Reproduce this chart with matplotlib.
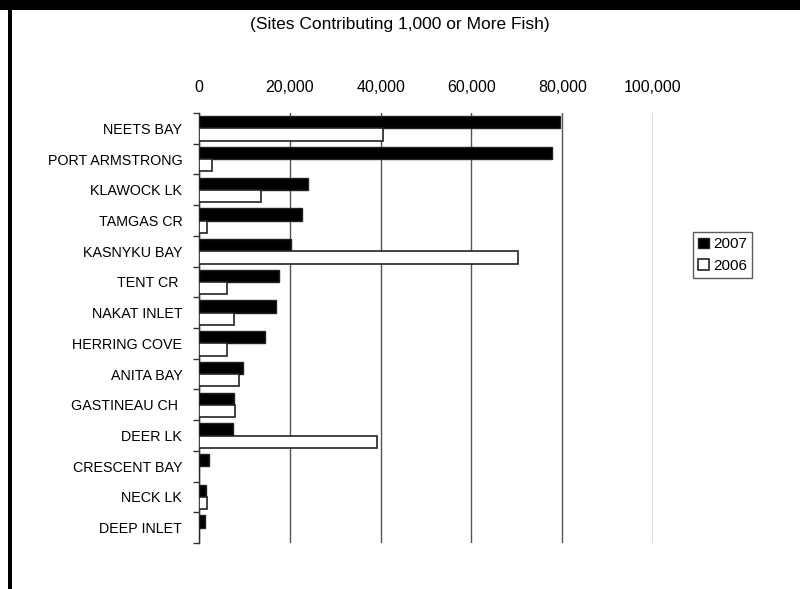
import matplotlib
matplotlib.use("Agg")
import matplotlib.pyplot as plt
from matplotlib.patches import Rectangle
import numpy as np

plt.rcParams['font.family'] = ['Liberation Sans', 'DejaVu Sans']

sites = ["NEETS BAY", "PORT ARMSTRONG", "KLAWOCK LK", "TAMGAS CR", "KASNYKU BAY",
         "TENT CR ", "NAKAT INLET", "HERRING COVE", "ANITA BAY", "GASTINEAU CH ",
         "DEER LK", "CRESCENT BAY", "NECK LK", "DEEP INLET"]
fish_2007 = [79500, 77700, 24000, 22600, 20250, 17600, 17000, 14500, 9600, 7600,
             7400, 2100, 1600, 1400]
fish_2006 = [40500, 2800, 13600, 1700, 70300, 6100, 7800, 6200, 8900, 7900,
             39300, 0, 1800, 0]
xticks = [0, 20000, 40000, 60000, 80000, 100000]
xticklabels = ["0", "20,000", "40,000", "60,000", "80,000", "100,000"]
title = "(Sites Contributing 1,000 or More Fish)"

fig = plt.figure(figsize=(8, 5.89), dpi=100)
ax = fig.add_axes([0.24875, 0.0781, 0.8163 - 0.24875, 0.8081 - 0.0781])

n = len(sites)
y = np.arange(n)
h = 0.4
ax.barh(y - h / 2, fish_2007, height=h, color="black", edgecolor="#222222",
        linewidth=1, label="2007", zorder=3)
ax.barh(y + h / 2, fish_2006, height=h, color="white", edgecolor="#222222",
        linewidth=1.2, label="2006", zorder=3)

ax.set_ylim(n - 0.5, -0.5)
ax.set_xlim(0, 100000)
ax.set_yticks(y)
ax.set_yticklabels(sites, fontsize=10.3)
ax.tick_params(axis="y", which="major", length=0, pad=12)
ax.set_yticks(np.arange(n + 1) - 0.5, minor=True)
ax.tick_params(axis="y", which="minor", length=4, width=1, color="#333333")

ax.xaxis.tick_top()
ax.set_xticks(xticks)
ax.set_xticklabels(xticklabels, fontsize=11.5)
ax.tick_params(axis="x", length=0, pad=13)
ax.grid(axis="x", color="#555555", linewidth=1, zorder=0)

for s in ["top", "right", "bottom"]:
    ax.spines[s].set_visible(False)
ax.spines["left"].set_color("#333333")
ax.spines["left"].set_linewidth(1)

leg = ax.legend(loc="upper left", bbox_to_anchor=(693 / 800, 1 - 232 / 589),
                bbox_transform=fig.transFigure, fontsize=11, frameon=True,
                fancybox=False, edgecolor="#333333", handlelength=0.7,
                handleheight=0.7, handletextpad=0.25, borderpad=0.35,
                labelspacing=0.5, borderaxespad=0)
leg.get_frame().set_linewidth(1)

fig.text(0.5, 1 - 25 / 589, title, ha="center", va="center", fontsize=12.5)

fig.patches.append(Rectangle((0, 1 - 10 / 589), 1, 10 / 589, transform=fig.transFigure,
                             facecolor="black", edgecolor="none"))
fig.patches.append(Rectangle((8 / 800, 0), 4 / 800, 1, transform=fig.transFigure,
                             facecolor="black", edgecolor="none"))

fig.savefig("out.png", dpi=100)
